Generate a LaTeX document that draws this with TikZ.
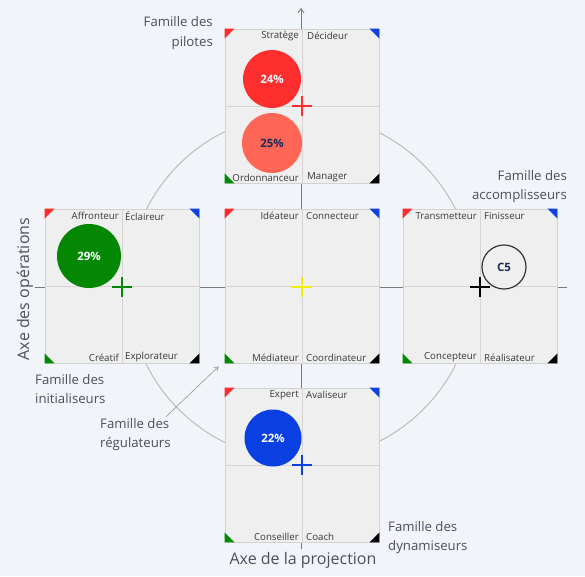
\documentclass[tikz,border=0pt]{standalone}
\usepackage{fontspec}
\setmainfont{Open Sans}
\usepackage{xcolor}
\usetikzlibrary{calc, arrows.meta, positioning}

\definecolor{bgcol}{HTML}{F1F4F8}
\definecolor{boxfill}{HTML}{EFEFEF}
\definecolor{boxline}{HTML}{D2D2D2}
\definecolor{divline}{HTML}{D8D2D2}
\definecolor{axisgray}{HTML}{7A7A7A}
\definecolor{orbitgray}{HTML}{BDBDBD}
\definecolor{labeltext}{HTML}{3A3A3A}
\definecolor{famtext}{HTML}{4A505C}
\definecolor{navytext}{HTML}{1E2A5A}
\definecolor{redcorner}{HTML}{FF2A2A}
\definecolor{bluecorner}{HTML}{1040E0}
\definecolor{greencorner}{HTML}{008A00}
\definecolor{pilred}{HTML}{FF2E2E}
\definecolor{pilsalmon}{HTML}{FF6655}
\definecolor{inigreen}{HTML}{048804}
\definecolor{dynblue}{HTML}{0A40E2}
\definecolor{regyellow}{HTML}{F2EE00}

\begin{document}
\begin{tikzpicture}[
    x=1pt, y=-1pt,
    axis_line/.style={draw=axisgray, line width=0.9pt},
    orbit_line/.style={draw=orbitgray, line width=1pt},
    % boites des familles
    role_box/.style={rectangle, draw=boxline, fill=boxfill, line width=0.8pt, minimum size=154pt, inner sep=0pt},
    div_line/.style={draw=divline, line width=0.8pt},
    role_label/.style={font=\fontsize{9.7}{11}\selectfont, text=labeltext, inner sep=0pt},
    cross_mark/.style={line width=1.7pt},
    % pastilles de score
    score_disc/.style={circle, inner sep=0pt, font=\fontsize{11.5}{13}\selectfont\bfseries},
    % textes exterieurs
    family_label/.style={font=\fontsize{13.2}{19.5}\selectfont, text=famtext, inner sep=0pt},
    axis_label/.style={font=\fontsize{16}{18}\selectfont, text=famtext, inner sep=0pt},
    hint_arrow/.style={draw=orbitgray!80!black, line width=0.6pt, -{Straight Barb[length=4pt, width=5pt]}}
]
    \fill [bgcol] (0,0) rectangle (585,576);
    \useasboundingbox (0,0) rectangle (585,576);

    % =========================================================================
    % AXES ET CERCLE
    % =========================================================================
    \coordinate (ax_top) at (301,8);
    \coordinate (ax_bottom) at (301,549);
    \coordinate (ax_left) at (35,287);
    \coordinate (ax_right) at (567,287);
    \coordinate (origin) at (301,287);

    \draw [orbit_line] (origin) circle [radius=173pt];
    \draw [axis_line] (ax_left) -- (ax_right);
    \draw [axis_line, -{Straight Barb[length=4pt, width=6pt]}] (ax_bottom) -- (ax_top);

    % =========================================================================
    % BOITES DES CINQ FAMILLES
    % =========================================================================
    \node [role_box] (pil) at (302,106) {};
    \node [role_box] (ini) at (122,286) {};
    \node [role_box] (reg) at (302,286) {};
    \node [role_box] (acc) at (480,286) {};
    \node [role_box] (dyn) at (302,465) {};

    \foreach \b in {pil, ini, reg, acc, dyn} {
        \draw [div_line] (\b.north) -- (\b.south);
        \draw [div_line] (\b.west) -- (\b.east);
        \fill [redcorner] (\b.north west) -- ++(10,0) -- ++(-10,10) -- cycle;
        \fill [bluecorner] (\b.north east) -- ++(-10,0) -- ++(10,10) -- cycle;
        \fill [greencorner] (\b.south west) -- ++(10,0) -- ++(-10,-10) -- cycle;
        \fill [black] (\b.south east) -- ++(-10,0) -- ++(10,-10) -- cycle;
    }

    % libelles des roles
    \node [role_label, anchor=east] (pil_tl) at ($(pil.north)+(-3,7.5)$) {Stratège};
    \node [role_label, anchor=west] (pil_tr) at ($(pil.north)+(5,7.5)$) {Décideur};
    \node [role_label, anchor=east] (pil_bl) at ($(pil.south)+(-3,-6)$) {Ordonnanceur};
    \node [role_label, anchor=west] (pil_br) at ($(pil.south)+(5,-6)$) {Manager};

    \node [role_label, anchor=east] (ini_tl) at ($(ini.north)+(-3,7.5)$) {Affronteur};
    \node [role_label, anchor=west] (ini_tr) at ($(ini.north)+(3,7.5)$) {Éclaireur};
    \node [role_label, anchor=east] (ini_bl) at ($(ini.south)+(-3,-6)$) {Créatif};
    \node [role_label, anchor=west] (ini_br) at ($(ini.south)+(3,-6)$) {Explorateur};

    \node [role_label, anchor=east] (reg_tl) at ($(reg.north)+(-3,7.5)$) {Idéateur};
    \node [role_label, anchor=west] (reg_tr) at ($(reg.north)+(4,7.5)$) {Connecteur};
    \node [role_label, anchor=east] (reg_bl) at ($(reg.south)+(-3,-6)$) {Médiateur};
    \node [role_label, anchor=west] (reg_br) at ($(reg.south)+(4,-6)$) {Coordinateur};

    \node [role_label, anchor=east] (acc_tl) at ($(acc.north)+(-3,7.5)$) {Transmetteur};
    \node [role_label, anchor=west] (acc_tr) at ($(acc.north)+(4,7.5)$) {Finisseur};
    \node [role_label, anchor=east] (acc_bl) at ($(acc.south)+(-3,-6)$) {Concepteur};
    \node [role_label, anchor=west] (acc_br) at ($(acc.south)+(4,-6)$) {Réalisateur};

    \node [role_label, anchor=east] (dyn_tl) at ($(dyn.north)+(-3,7.5)$) {Expert};
    \node [role_label, anchor=west] (dyn_tr) at ($(dyn.north)+(4,7.5)$) {Avaliseur};
    \node [role_label, anchor=east] (dyn_bl) at ($(dyn.south)+(-3,-6)$) {Conseiller};
    \node [role_label, anchor=west] (dyn_br) at ($(dyn.south)+(4,-6)$) {Coach};

    % =========================================================================
    % PASTILLES DE SCORE
    % =========================================================================
    \node [score_disc, fill=pilred, text=white, minimum size=58pt] (pil_s1) at (272,79) {24\%};
    \node [score_disc, fill=pilsalmon, text=navytext, minimum size=60pt] (pil_s2) at (272,143) {25\%};
    \node [score_disc, fill=inigreen, text=white, minimum size=64pt] (ini_s) at (89,256) {29\%};
    \node [score_disc, fill=dynblue, text=white, minimum size=57pt] (dyn_s) at (273,438) {22\%};
    \node [score_disc, draw=black!80, line width=1.2pt, fill=boxfill, text=navytext, minimum size=44pt] (acc_s) at (504,267) {C5};

    % croix de position
    \draw [cross_mark, draw=pilred] ($(pil.center)+(-10,0)$) -- ($(pil.center)+(10,0)$);
    \draw [cross_mark, draw=pilred] ($(pil.center)+(0,-10)$) -- ($(pil.center)+(0,10)$);
    \draw [cross_mark, draw=inigreen] ($(ini.center)+(-10,1)$) -- ($(ini.center)+(10,1)$);
    \draw [cross_mark, draw=inigreen] ($(ini.center)+(0,-9)$) -- ($(ini.center)+(0,11)$);
    \draw [cross_mark, draw=regyellow] ($(reg.center)+(-10,1)$) -- ($(reg.center)+(10,1)$);
    \draw [cross_mark, draw=regyellow] ($(reg.center)+(0,-9)$) -- ($(reg.center)+(0,11)$);
    \draw [cross_mark, draw=black] ($(acc.center)+(-10,1)$) -- ($(acc.center)+(10,1)$);
    \draw [cross_mark, draw=black] ($(acc.center)+(0,-9)$) -- ($(acc.center)+(0,11)$);
    \draw [cross_mark, draw=dynblue] ($(dyn.center)+(-10,0)$) -- ($(dyn.center)+(10,0)$);
    \draw [cross_mark, draw=dynblue] ($(dyn.center)+(0,-10)$) -- ($(dyn.center)+(0,10)$);

    % =========================================================================
    % NOMS DES FAMILLES ET DES AXES
    % =========================================================================
    \node [family_label, align=right, anchor=east] (pil_fam) at (213,33) {Famille des\\pilotes};
    \node [family_label, align=right, anchor=east] (acc_fam) at (567,186.5) {Famille des\\accomplisseurs};
    \node [family_label, align=left, anchor=west] (ini_fam) at (35,389) {Famille des\\initialiseurs};
    \node [family_label, align=left, anchor=west] (reg_fam) at (100,434.5) {Famille des\\régulateurs};
    \node [family_label, align=left, anchor=west] (dyn_fam) at (388,537.5) {Famille des\\dynamiseurs};

    \draw [hint_arrow] ($(reg_fam.north east)+(-5,-1)$) -- ($(reg.south west)+(-6,3)$);

    \node [axis_label] (proj_lbl) at (303,560) {Axe de la projection};
    \node [axis_label, rotate=90] (oper_lbl) at (25,289) {Axe des opérations};
\end{tikzpicture}
\end{document}
